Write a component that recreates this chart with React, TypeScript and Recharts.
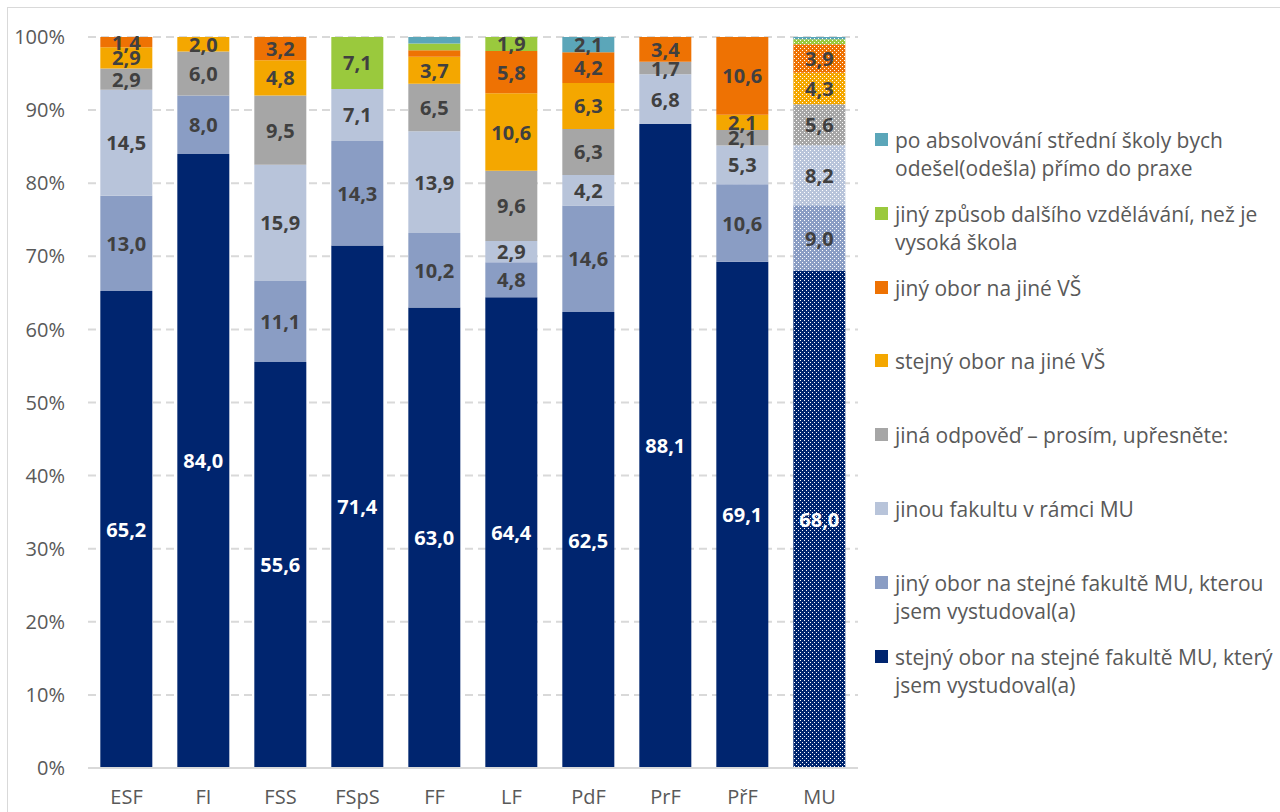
import { Bar, BarChart, CartesianGrid, Cell, LabelList, Legend, XAxis, YAxis } from "recharts";

const categories = ["ESF", "FI", "FSS", "FSpS", "FF", "LF", "PdF", "PrF", "PřF", "MU"];

// series, bottom of the stack first
const stejnyOborStejnaFakulta = [65.2, 84.0, 55.6, 71.4, 63.0, 64.4, 62.5, 88.1, 69.1, 68.0];
const jinyOborStejnaFakulta = [13.0, 8.0, 11.1, 14.3, 10.2, 4.8, 14.6, 0, 10.6, 9.0];
const jinaFakultaMU = [14.5, 0, 15.9, 7.1, 13.9, 2.9, 4.2, 6.8, 5.3, 8.2];
const jinaOdpoved = [2.9, 6.0, 9.5, 0, 6.5, 9.6, 6.3, 1.7, 2.1, 5.6];
const stejnyOborJinaVS = [2.9, 2.0, 4.8, 0, 3.7, 10.6, 6.3, 0, 2.1, 4.3];
const jinyOborJinaVS = [1.4, 0, 3.2, 0, 0.9, 5.8, 4.2, 3.4, 10.6, 3.9];
const jinyZpusob = [0, 0, 0, 7.1, 0.9, 1.9, 0, 0, 0, 0.7];
const praxe = [0, 0, 0, 0, 0.9, 0, 2.1, 0, 0, 0.3];

const seriesValues = [
  stejnyOborStejnaFakulta,
  jinyOborStejnaFakulta,
  jinaFakultaMU,
  jinaOdpoved,
  stejnyOborJinaVS,
  jinyOborJinaVS,
  jinyZpusob,
  praxe,
];

const seriesNames = [
  "stejný obor na stejné fakultě MU, který\njsem vystudoval(a)",
  "jiný obor na stejné fakultě MU, kterou\njsem vystudoval(a)",
  "jinou fakultu v rámci MU",
  "jiná odpověď – prosím, upřesněte:",
  "stejný obor na jiné VŠ",
  "jiný obor na jiné VŠ",
  "jiný způsob dalšího vzdělávání, než je\nvysoká škola",
  "po absolvování střední školy bych\nodešel(odešla) přímo do praxe",
];

const colors = ["#00256f", "#8a9dc4", "#b8c4da", "#a6a6a6", "#f4a700", "#ee7203", "#9ac93d", "#5ba6b9"];

const yTicks = [0, 0.1, 0.2, 0.3, 0.4, 0.5, 0.6, 0.7, 0.8, 0.9, 1];

const data = categories.map((name, i) => {
  const row: Record<string, string | number> = { name };
  seriesValues.forEach((vals, s) => {
    row[`s${s}`] = vals[i];
  });
  return row;
});

const FONT = "'Open Sans', Lato, sans-serif";

function SegmentLabel(props: any, s: number) {
  const { x, y, width, height, value } = props;
  if (value == null || Number(value) < 1) return null;
  return (
    <text
      x={Number(x) + Number(width) / 2}
      y={Number(y) + Number(height) / 2}
      textAnchor="middle"
      dominantBaseline="central"
      fill={s === 0 ? "#ffffff" : "#404040"}
      fontFamily={FONT}
      fontWeight={700}
      fontSize={20}
    >
      {Number(value).toFixed(1).replace(".", ",")}
    </text>
  );
}

function LegendBox() {
  const order = seriesNames.map((_, i) => i).reverse();
  return (
    <div style={{ fontFamily: FONT, fontSize: 21, color: "#595959" }}>
      {order.map((s) => (
        <div key={s} style={{ height: 73.8, display: "flex", alignItems: "flex-start" }}>
          <span
            style={{ width: 13, height: 13, background: colors[s], marginTop: 7, marginRight: 7, flex: "none" }}
          />
          <span style={{ whiteSpace: "pre", lineHeight: "28px" }}>{seriesNames[s]}</span>
        </div>
      ))}
    </div>
  );
}

export default function App() {
  return (
    <div style={{ position: "relative", width: 1280, height: 812, overflow: "hidden", background: "#fff" }}>
      <style>{"body{margin:0;overflow:hidden}"}</style>
      <div
        style={{
          position: "absolute",
          left: 7,
          top: 7,
          width: 1300,
          height: 830,
          border: "1px solid #d9d9d9",
        }}
      />
      <div style={{ position: "absolute", left: 0, top: 0 }}>
        <BarChart
          width={1280}
          height={812}
          data={data}
          stackOffset="expand"
          barCategoryGap="16%"
          margin={{ top: 37, right: 422, bottom: 14, left: 0 }}
        >
          <defs>
            {colors.map((c, i) => (
              <pattern key={i} id={`mu-pat-${i}`} width={4} height={4} patternUnits="userSpaceOnUse">
                <rect width={4} height={4} fill={c} />
                <rect x={0} y={0} width={1} height={1} fill="#ffffff" />
                <rect x={2} y={2} width={1} height={1} fill="#ffffff" />
              </pattern>
            ))}
          </defs>
          <CartesianGrid vertical={false} stroke="#d9d9d9" strokeWidth={2} strokeDasharray="8 5" />
          <XAxis
            dataKey="name"
            height={30}
            tickLine={false}
            tickMargin={16}
            axisLine={{ stroke: "#d9d9d9", strokeWidth: 2 }}
            tick={{ fill: "#595959", fontSize: 20, fontFamily: FONT }}
          />
          <YAxis
            width={88}
            domain={[0, 1]}
            ticks={yTicks}
            interval={0}
            axisLine={false}
            tickLine={false}
            tickMargin={17}
            tickFormatter={(v: number) => `${Math.round(v * 100)}%`}
            tick={{ fill: "#595959", fontSize: 20, fontFamily: FONT }}
          />
          <Legend
            layout="vertical"
            align="center"
            verticalAlign="middle"
            wrapperStyle={{ left: 875, top: 126, width: 405 }}
            content={() => <LegendBox />}
          />
          {seriesValues.map((_, s) => (
            <Bar
              key={s}
              dataKey={`s${s}`}
              name={seriesNames[s]}
              stackId="a"
              fill={colors[s]}
              isAnimationActive={false}
            >
              {categories.map((c, i) => (
                <Cell key={c} fill={c === "MU" ? `url(#mu-pat-${s})` : colors[s]} />
              ))}
              <LabelList dataKey={`s${s}`} content={(p: any) => SegmentLabel(p, s)} />
            </Bar>
          ))}
        </BarChart>
      </div>
    </div>
  );
}
